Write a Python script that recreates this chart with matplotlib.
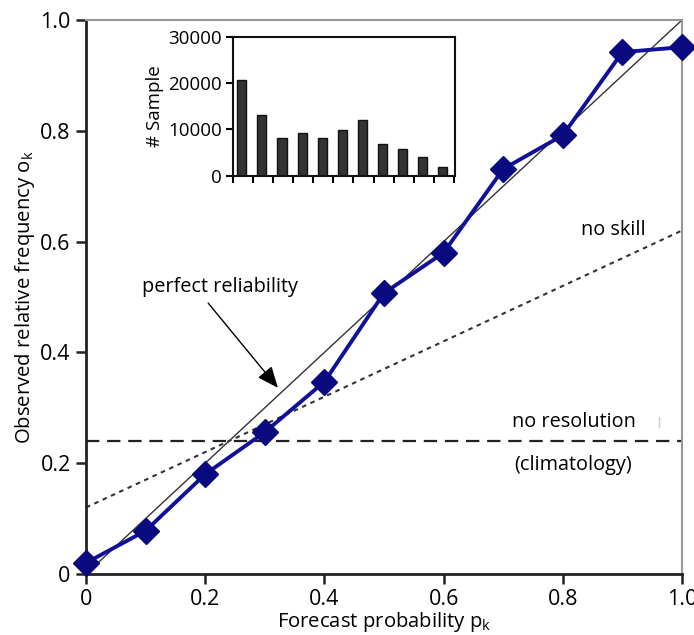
import numpy as np
import matplotlib
matplotlib.use("Agg")
import matplotlib.pyplot as plt

plt.rcParams['font.family'] = ['Open Sans', 'DejaVu Sans']

# reliability curve
pk = [0.0, 0.1, 0.2, 0.3, 0.4, 0.5, 0.6, 0.7, 0.8, 0.9, 1.0]
ok = [0.02, 0.078, 0.18, 0.256, 0.347, 0.507, 0.58, 0.731, 0.792, 0.942, 0.951]
climatology = 0.24

# sample counts per probability bin
samples = [20700, 13100, 8100, 9250, 8100, 9800, 12050, 6900, 5800, 4100, 1800]

main_ticks = [0, 0.2, 0.4, 0.6, 0.8, 1.0]
main_ticklabels = ['0', '0.2', '0.4', '0.6', '0.8', '1.0']
inset_ticks = [0, 10000, 20000, 30000]

fig = plt.figure(figsize=(6.94, 6.35), dpi=100)
ax = fig.add_axes([0.1239, 0.0961, 0.8588, 0.8724])

ax.set_xlim(0, 1)
ax.set_ylim(0, 1)
ax.set_xticks(main_ticks)
ax.set_xticklabels(main_ticklabels)
ax.set_yticks(main_ticks)
ax.set_yticklabels(main_ticklabels)
ax.tick_params(direction='out', length=7, width=1.8, labelsize=15.5, color='#222222', pad=4)
for s in ['left', 'bottom']:
    ax.spines[s].set_linewidth(2)
    ax.spines[s].set_color('#222222')
for s in ['top', 'right']:
    ax.spines[s].set_linewidth(1.5)
    ax.spines[s].set_color('#999999')

ax.set_xlabel('Forecast probability p$_{\\mathregular{k}}$', fontsize=14.6, labelpad=0)
ax.set_ylabel('Observed relative frequency o$_{\\mathregular{k}}$', fontsize=14.6, labelpad=2)

# reference lines
xs = np.array([0, 1])
ax.plot(xs, xs, color='#333333', lw=1.0, zorder=2)
ax.plot(xs, climatology + 0.5 * (xs - climatology), color='#333333', lw=1.5,
        linestyle=(0, (2.2, 2.2)), zorder=2)
ax.axhline(climatology, color='#222222', lw=1.6, linestyle=(0, (6, 3.5)), zorder=2)
ax.plot([0.961, 0.961], [0.265, 0.283], color='#cccccc', lw=1, zorder=1)

ax.plot(pk, ok, color='#10109a', lw=2.8, marker='D', markersize=13,
        markerfacecolor='#0a0a80', markeredgecolor='#0a0a80', zorder=4, clip_on=False)

ax.text(0.225, 0.518, 'perfect reliability', fontsize=14.3, ha='center', va='center')
ax.annotate('', xy=(0.322, 0.336), xytext=(0.205, 0.489),
            arrowprops=dict(arrowstyle='-|>,head_length=1.3,head_width=0.55',
                            color='black', lw=1.0, shrinkA=0, shrinkB=0))
ax.text(0.884, 0.621, 'no skill', fontsize=14.3, ha='center', va='center')
ax.text(0.819, 0.274, 'no resolution', fontsize=14.3, ha='center', va='center')
ax.text(0.817, 0.197, '(climatology)', fontsize=14.3, ha='center', va='center')

# inset histogram
axi = fig.add_axes([0.3353, 0.7233, 0.3203, 0.2184])
axi.bar(np.arange(len(samples)), samples, width=0.45, color='#333333',
        edgecolor='#111111', linewidth=1)
axi.set_xlim(-0.45, 10.6)
axi.set_ylim(0, 30000)
axi.set_yticks(inset_ticks)
axi.set_yticklabels([str(v) for v in inset_ticks])
axi.set_xticks(np.arange(-0.45, 11, 1.0))
axi.set_xticklabels([])
axi.tick_params(direction='out', length=5, width=1.5, labelsize=13.5, pad=3)
for s in axi.spines.values():
    s.set_linewidth(1.5)
    s.set_color('#111111')
axi.set_ylabel('# Sample', fontsize=13.5, labelpad=3)

fig.savefig('out.png', dpi=100)
